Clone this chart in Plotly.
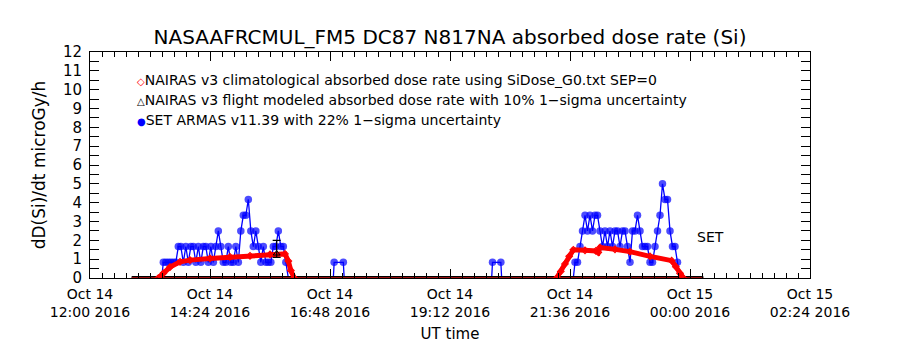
import pandas as pd
import plotly.graph_objects as go

# ---- SET ARMAS absorbed dose rate (microGy/h), 3-minute samples ----
set1_start = "2016-10-14 13:28"
set1_vals = [0.83, 0.83, 0.83, 0.83, 0.83, 0.83, 1.67, 1.67, 0.83, 1.67,
             0.83, 1.67, 1.67, 0.83, 1.67, 0.83, 1.67, 1.67, 0.83, 1.67,
             0.83, 1.67, 2.5, 1.67, 0.83, 0.83, 1.67, 0.83, 0.83, 1.67,
             0.83, 2.5, 3.33, 3.33, 4.17, 2.5, 1.67, 2.5, 1.67, 0.83,
             1.67, 0.83, 0.83, 0.83, 1.67, 1.67, 2.5, 1.67, 1.67, 0.83, 0.0]
set2_start = "2016-10-14 21:42"
set2_vals = [0.83, 0.83, 1.67, 2.5, 3.33, 2.5, 3.33, 2.5, 3.33, 3.33,
             2.5, 1.67, 2.5, 1.67, 2.5, 1.67, 2.5, 2.5, 1.67, 2.5,
             2.5, 1.67, 0.83, 2.5, 2.5, 3.33, 2.5, 1.67, 1.67, 1.67,
             0.83, 0.83, 1.67, 2.5, 3.33, 5.0, 4.17, 4.17, 2.5, 1.67,
             1.67, 0.83, 0.0]
set_cadence_min = 3
# isolated readings between the two flights
set_iso_t = ["2016-10-14 16:52", "2016-10-14 16:53", "2016-10-14 17:04", "2016-10-14 17:05",
             "2016-10-14 20:02", "2016-10-14 20:03", "2016-10-14 20:13", "2016-10-14 20:14"]
set_iso_v = [0.0, 0.83, 0.83, 0.0, 0.0, 0.83, 0.83, 0.0]

# ---- NAIRAS v3 climatological dose rate ----
nairas1_t = ["13:22", "13:28", "13:36", "13:48", "14:00", "14:24", "14:48", "15:12",
             "15:36", "15:54", "15:58", "16:01", "16:05"]
nairas1_v = [0.0, 0.25, 0.58, 0.86, 0.95, 1.04, 1.12, 1.18, 1.25, 1.28, 0.9, 0.4, 0.0]
nairas2_t = ["21:20", "21:25", "21:30", "21:35", "21:40", "21:54", "22:07", "22:10",
             "22:12", "22:30", "22:48", "23:12", "23:38", "23:43", "23:48", "23:52"]
nairas2_v = [0.0, 0.35, 0.75, 1.15, 1.5, 1.47, 1.44, 1.36, 1.62, 1.52, 1.4, 1.15,
             0.92, 0.6, 0.25, 0.0]
nairas_zero_t = ["2016-10-14 12:50", "2016-10-15 00:16"]
nairas_zero_v = [0.0, 0.0]

# ---- NAIRAS v3 flight modeled dose rate ----
flight_t = ["2016-10-14 12:50", "2016-10-15 00:16"]
flight_v = [0.0, 0.0]
flight_pt_t = ["2016-10-14 15:44"]
flight_pt_v = [1.3]
flight_pt_err_plus = [0.7]
flight_pt_err_minus = [0.2]

# ---- axis ticks ----
xtick_vals = ["2016-10-14 12:00", "2016-10-14 14:24", "2016-10-14 16:48", "2016-10-14 19:12",
              "2016-10-14 21:36", "2016-10-15 00:00", "2016-10-15 02:24"]
xtick_text = ["Oct 14<br>12:00 2016", "Oct 14<br>14:24 2016", "Oct 14<br>16:48 2016",
              "Oct 14<br>19:12 2016", "Oct 14<br>21:36 2016", "Oct 15<br>00:00 2016",
              "Oct 15<br>02:24 2016"]
ytick_vals = list(range(0, 13))

FONT = "DejaVu Sans"
BLUE = "#0000ff"
RED = "#ff0000"


def series(start, vals):
    t = pd.date_range(start, periods=len(vals), freq=f"{set_cadence_min}min")
    return list(t), list(vals)


def day_times(day, hhmm):
    return [pd.Timestamp(f"{day} {h}") for h in hhmm]


t1, v1 = series(set1_start, set1_vals)
t2, v2 = series(set2_start, set2_vals)
lead1 = [pd.Timestamp(set1_start) - pd.Timedelta(minutes=2)]
lead2 = [pd.Timestamp(set2_start) - pd.Timedelta(minutes=2)]
set_t = lead1 + t1 + [None] + lead2 + t2 + [None] + [pd.Timestamp(s) for s in set_iso_t]
set_v = [0.0] + v1 + [None] + [0.0] + v2 + [None] + set_iso_v
set_size = [0 if (v is None or v == 0) else 7.5 for v in set_v]

fig = go.Figure()

fig.add_trace(go.Scatter(
    x=set_t, y=set_v, mode="lines+markers", connectgaps=False,
    line=dict(color=BLUE, width=1.3),
    marker=dict(color=BLUE, size=set_size, symbol="circle", line=dict(width=0)),
    showlegend=False, hoverinfo="skip"))

fig.add_trace(go.Scatter(
    x=[pd.Timestamp(s) for s in flight_t], y=flight_v, mode="lines",
    line=dict(color="black", width=4), showlegend=False, hoverinfo="skip"))

fig.add_trace(go.Scatter(
    x=[pd.Timestamp(s) for s in nairas_zero_t], y=nairas_zero_v, mode="lines",
    line=dict(color="#9a1010", width=2), showlegend=False, hoverinfo="skip"))

nairas_t = day_times("2016-10-14", nairas1_t) + [None] + day_times("2016-10-14", nairas2_t)
nairas_v = nairas1_v + [None] + nairas2_v
fig.add_trace(go.Scatter(
    x=nairas_t, y=nairas_v, mode="lines+markers", connectgaps=False,
    line=dict(color=RED, width=5),
    marker=dict(color=RED, size=5, symbol="diamond-open", line=dict(width=1.2, color=RED)),
    showlegend=False, hoverinfo="skip"))

fig.add_trace(go.Scatter(
    x=[pd.Timestamp(s) for s in flight_pt_t], y=flight_pt_v, mode="markers",
    marker=dict(color="black", size=6, symbol="triangle-up-open"),
    error_y=dict(type="data", symmetric=False, array=flight_pt_err_plus,
                 arrayminus=flight_pt_err_minus, color="black", thickness=1.2, width=4),
    showlegend=False, hoverinfo="skip"))

# legend entries written as text lines with coloured symbols
legend_lines = [
    (RED, "\u25c7", "NAIRAS v3 climatological absorbed dose rate using SiDose_G0.txt SEP=0"),
    ("black", "\u25b3", "NAIRAS v3 flight modeled absorbed dose rate with 10% 1\u2212sigma uncertainty"),
    (BLUE, "\u25cf", "SET ARMAS v11.39 with 22% 1\u2212sigma uncertainty"),
]
for i, (col, sym, txt) in enumerate(legend_lines):
    fig.add_annotation(
        xref="paper", yref="paper", x=0.062, y=0.876 - i * 0.0885,
        xanchor="left", yanchor="middle", showarrow=False,
        text=f"<span style='color:{col};font-size:10px'><b>{sym}</b></span>{txt}",
        font=dict(family=FONT, size=14, color="black"))

fig.add_annotation(x=pd.Timestamp("2016-10-15 00:24"), y=2.17, text="SET", showarrow=False,
                   font=dict(family=FONT, size=14, color="black"))

fig.update_layout(
    width=900, height=350,
    margin=dict(l=90, r=90, t=52, b=72, autoexpand=False),
    paper_bgcolor="white", plot_bgcolor="white",
    font=dict(family=FONT, color="black"),
    title=dict(text="NASAAFRCMUL_FM5 DC87 N817NA absorbed dose rate (Si)",
               x=0.5, xanchor="center", y=1 - 37 / 350, yanchor="middle", yref="container",
               font=dict(family=FONT, size=20, color="black")),
)

fig.update_xaxes(
    type="date",
    range=["2016-10-14 12:00", "2016-10-15 02:24"],
    tickmode="array", tickvals=xtick_vals, ticktext=xtick_text,
    ticks="inside", ticklen=9, tickcolor="black", tickwidth=1,
    minor=dict(ticks="inside", ticklen=5, dtick=864000, tick0="2016-10-14 12:00",
               tickcolor="black", showgrid=False),
    showline=True, linecolor="black", linewidth=1, mirror="allticks",
    showgrid=False, zeroline=False,
    tickfont=dict(family=FONT, size=14, color="black"),
    ticklabelstandoff=3,
    title=dict(text="UT time", font=dict(family=FONT, size=15, color="black"), standoff=9),
    automargin=False,
)

fig.update_yaxes(
    range=[0, 12],
    tickmode="array", tickvals=ytick_vals, ticktext=[str(v) for v in ytick_vals],
    ticks="inside", ticklen=9, tickcolor="black", tickwidth=1,
    minor=dict(ticks="inside", ticklen=9, dtick=0.5, tickcolor="black", showgrid=False),
    showline=True, linecolor="black", linewidth=1, mirror="allticks",
    showgrid=False, zeroline=False,
    tickfont=dict(family=FONT, size=15, color="black"),
    ticklabelstandoff=4,
    title=dict(text="dD(Si)/dt microGy/h", font=dict(family=FONT, size=17, color="black"),
               standoff=12),
    automargin=False,
)

fig.write_html("out.html")
